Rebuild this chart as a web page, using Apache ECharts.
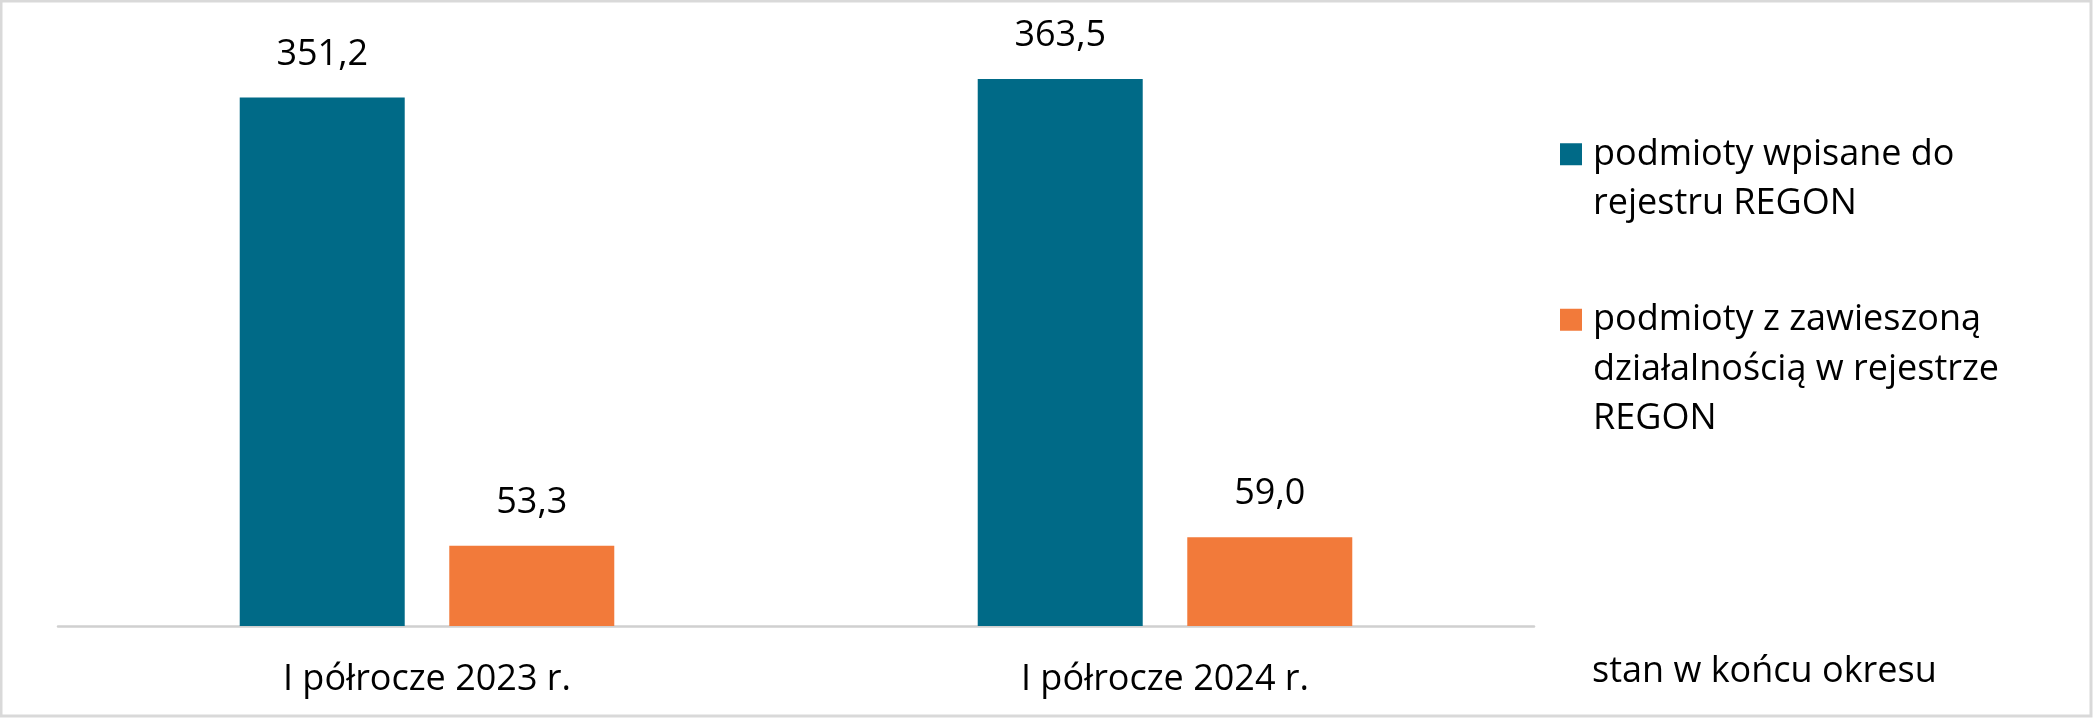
<!DOCTYPE html>
<html>
<head>
<meta charset="utf-8">
<script src="https://cdn.jsdelivr.net/npm/echarts@6/dist/echarts.min.js"></script>
<style>
html,body{margin:0;padding:0;background:#fff;}
#c{width:2093px;height:719px;}
</style>
</head>
<body>
<div id="c"></div>
<script>
const categories = ['I półrocze 2023 r.', 'I półrocze 2024 r.'];
const registered = [351.2, 363.5];
const suspended = [53.3, 59.0];
const seriesNames = ['podmioty wpisane do\nrejestru REGON', 'podmioty z zawieszoną\ndziałalnością w rejestrze\nREGON'];
const note = 'stan w końcu okresu';

const FONT = '"Open Sans", sans-serif';
const FS = 36;
const fmt = p => p.value.toFixed(1).replace('.', ',');

// legend text: pad with empty lines so the icon sits on the first line
const legendFmt = name => {
  const lines = name.split('\n');
  const blanks = new Array(lines.length - 1).fill('{b|}');
  return blanks.concat(lines.map(l => '{a|' + l + '}')).join('\n');
};
const legendText = {
  fontFamily: FONT, fontSize: FS, lineHeight: 49.5, color: '#000',
  rich: {
    a: { fontFamily: FONT, fontSize: FS, lineHeight: 49.5, color: '#000', padding: [0, 0, 0, 6] },
    b: { fontFamily: FONT, fontSize: FS, lineHeight: 49.5 }
  }
};

const chart = echarts.init(document.getElementById('c'));
const labelCfg = {
  show: true, position: 'top', distance: 25, formatter: fmt,
  fontFamily: FONT, fontSize: FS, lineHeight: 36, color: '#000'
};
chart.setOption({
  animation: false,
  title: {
    text: note, left: 1587, top: 649,
    textStyle: { fontFamily: FONT, fontSize: FS, lineHeight: 36, fontWeight: 'normal', color: '#000' }
  },
  graphic: [{
    type: 'rect', silent: true, z: 100,
    shape: { x: 1, y: 1, width: 2090, height: 715 },
    style: { fill: 'none', stroke: '#d9d9d9', lineWidth: 3 }
  }],
  legend: [
    {
      data: [seriesNames[0]], formatter: legendFmt,
      left: 1560, top: 80, orient: 'vertical', padding: 0,
      itemWidth: 22, itemHeight: 22, itemGap: 0, itemStyle: { borderWidth: 0 },
      icon: 'rect', textStyle: legendText
    },
    {
      data: [seriesNames[1]], formatter: legendFmt,
      left: 1560, top: 196, orient: 'vertical', padding: 0,
      itemWidth: 22, itemHeight: 22, itemGap: 0, itemStyle: { borderWidth: 0 },
      icon: 'rect', textStyle: legendText
    }
  ],
  grid: { left: 58, right: 559, top: 24, bottom: 93, containLabel: false },
  xAxis: {
    type: 'category', data: categories,
    axisLine: { lineStyle: { color: '#d0d0d0', width: 2.5 } },
    axisTick: { show: false },
    axisLabel: { fontFamily: FONT, fontSize: FS, lineHeight: 36, color: '#000', margin: 36 }
  },
  yAxis: {
    type: 'value', min: 0, max: 400, show: false,
    splitLine: { show: false }
  },
  series: [
    {
      name: seriesNames[0], type: 'bar', data: registered,
      barWidth: 165, barGap: '27%',
      itemStyle: { color: '#006a87' }, label: labelCfg
    },
    {
      name: seriesNames[1], type: 'bar', data: suspended,
      barWidth: 165,
      itemStyle: { color: '#f27a3a' }, label: labelCfg
    }
  ]
});
</script>
</body>
</html>
